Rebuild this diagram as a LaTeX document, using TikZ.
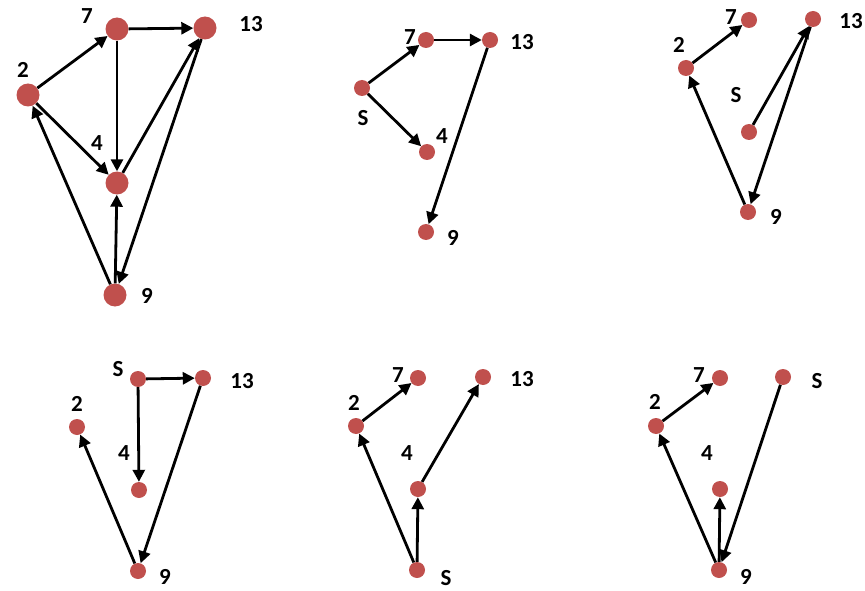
\documentclass[tikz,border=0pt]{standalone}
\usepackage{fontspec}
\setmainfont{Carlito}
\usetikzlibrary{arrows.meta}
\definecolor{nodered}{RGB}{192,80,77}
\begin{document}
\begin{tikzpicture}[x=1pt,y=-1pt,
  big/.style={circle,fill=nodered,minimum size=23pt,inner sep=0pt},
  small/.style={circle,fill=nodered,minimum size=16pt,inner sep=0pt},
  lbl/.style={font=\fontsize{23}{23}\selectfont\bfseries,inner sep=0pt},
  arr/.style={line width=2.8pt,-{Triangle[length=12pt,width=12pt]}}]
\useasboundingbox (0,0) rectangle (865,591);
% ---------- graph 1 ----------
\node[big] (a7) at (117,29) {};
\node[big] (a13) at (205,28) {};
\node[big] (a2) at (28,95) {};
\node[big] (a4) at (117,183) {};
\node[big] (a9) at (115,295) {};
\node[lbl] (la7) at (87,16) {7};
\node[lbl] (la13) at (251,24) {13};
\node[lbl] (la2) at (23,70) {2};
\node[lbl] (la4) at (97,143) {4};
\node[lbl] (la9) at (147,296) {9};
\draw[arr] (a2) -- (a7);
\draw[arr] (a7) -- (a13);
\draw[arr] (a7) -- (a4);
\draw[arr] (a2) -- (a4);
\draw[arr] (a4) -- (a13);
\draw[arr] (a13) -- (a9);
\draw[arr] (a9) -- (a2);
\draw[arr] (a9) -- (a4);
% ---------- graph 2 ----------
\node[small] (b7) at (426,40) {};
\node[small] (b13) at (490,40) {};
\node[small] (bS) at (362,88) {};
\node[small] (b4) at (427,152) {};
\node[small] (b9) at (426,232) {};
\node[lbl] (lb7) at (410,37) {7};
\node[lbl] (lb13) at (522,42) {13};
\node[lbl] (lbS) at (363,118) {S};
\node[lbl] (lb4) at (442,136) {4};
\node[lbl] (lb9) at (453,238) {9};
\draw[arr] (bS) -- (b7);
\draw[arr] (b7) -- (b13);
\draw[arr] (bS) -- (b4);
\draw[arr] (b13) -- (b9);
% ---------- graph 3 ----------
\node[small] (c7) at (749,20) {};
\node[small] (c13) at (813,19) {};
\node[small] (c2) at (686,68) {};
\node[small] (cS) at (749,132) {};
\node[small] (c9) at (748,212) {};
\node[lbl] (lc7) at (731,17) {7};
\node[lbl] (lc13) at (851,21) {13};
\node[lbl] (lc2) at (679,45) {2};
\node[lbl] (lcS) at (736,95) {S};
\node[lbl] (lc9) at (776,217) {9};
\draw[arr] (c2) -- (c7);
\draw[arr] (cS) -- (c13);
\draw[arr] (c13) -- (c9);
\draw[arr] (c9) -- (c2);
% ---------- graph 4 ----------
\node[small] (dS) at (138,379) {};
\node[small] (d13) at (203,378) {};
\node[small] (d2) at (77,427) {};
\node[small] (d4) at (139,490) {};
\node[small] (d9) at (138,571) {};
\node[lbl] (ldS) at (118,369) {S};
\node[lbl] (ld13) at (242,381) {13};
\node[lbl] (ld2) at (77,404) {2};
\node[lbl] (ld4) at (124,453) {4};
\node[lbl] (ld9) at (165,577) {9};
\draw[arr] (dS) -- (d13);
\draw[arr] (dS) -- (d4);
\draw[arr] (d13) -- (d9);
\draw[arr] (d9) -- (d2);
% ---------- graph 5 ----------
\node[small] (e7) at (418,378) {};
\node[small] (e13) at (483,377) {};
\node[small] (e2) at (356,426) {};
\node[small] (e4) at (418,489) {};
\node[small] (eS) at (417,570) {};
\node[lbl] (le7) at (398,375) {7};
\node[lbl] (le13) at (522,379) {13};
\node[lbl] (le2) at (354,403) {2};
\node[lbl] (le4) at (407,453) {4};
\node[lbl] (leS) at (446,578) {S};
\draw[arr] (e2) -- (e7);
\draw[arr] (eS) -- (e2);
\draw[arr] (eS) -- (e4);
\draw[arr] (e4) -- (e13);
% ---------- graph 6 ----------
\node[small] (f7) at (720,378) {};
\node[small] (fS) at (783,377) {};
\node[small] (f2) at (656,426) {};
\node[small] (f4) at (720,489) {};
\node[small] (f9) at (719,570) {};
\node[lbl] (lf7) at (699,375) {7};
\node[lbl] (lfS) at (817,381) {S};
\node[lbl] (lf2) at (655,402) {2};
\node[lbl] (lf4) at (707,453) {4};
\node[lbl] (lf9) at (746,577) {9};
\draw[arr] (f2) -- (f7);
\draw[arr] (f9) -- (f2);
\draw[arr] (f9) -- (f4);
\draw[arr] (fS) -- (f9);
\end{tikzpicture}
\end{document}
